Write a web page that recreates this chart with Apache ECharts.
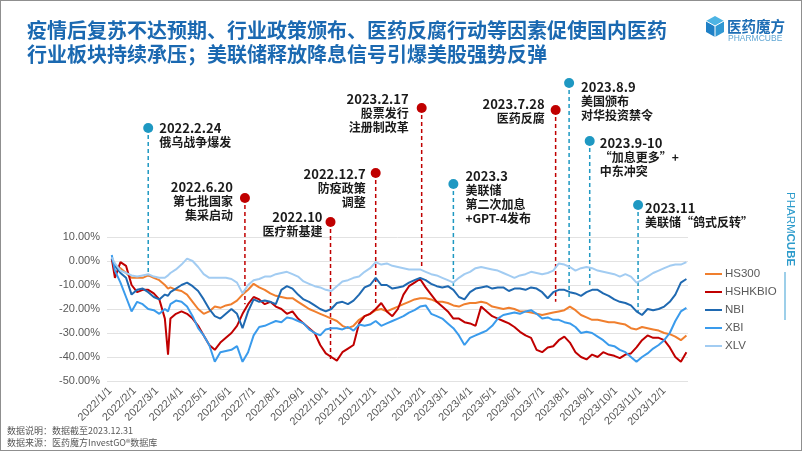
<!DOCTYPE html>
<html><head><meta charset="utf-8">
<script src="https://cdn.jsdelivr.net/npm/echarts@6/dist/echarts.min.js"></script>
<style>
html,body{margin:0;padding:0;background:#fff}
#c{width:802px;height:451px}
#f{position:absolute;left:0;top:0;width:802px;height:451px;box-sizing:border-box;border:1px solid #8f8f8f;pointer-events:none}
</style>
</head><body><div id="c"></div><div id="f"></div>
<script>
// ---------- data ----------
const dates = ['2022-01-03',
'2022-01-07','2022-01-14','2022-01-21','2022-01-28','2022-02-04','2022-02-11','2022-02-18','2022-02-25','2022-03-04','2022-03-11',
'2022-03-15',
'2022-03-18','2022-03-25','2022-04-01','2022-04-08','2022-04-15','2022-04-22','2022-04-29','2022-05-06','2022-05-13','2022-05-20',
'2022-05-27','2022-06-03','2022-06-10','2022-06-17','2022-06-24','2022-07-01','2022-07-08','2022-07-15','2022-07-22','2022-07-29',
'2022-08-05','2022-08-12','2022-08-19','2022-08-26','2022-09-02','2022-09-09','2022-09-16','2022-09-23','2022-09-30','2022-10-07',
'2022-10-14','2022-10-21','2022-10-28','2022-11-04','2022-11-11','2022-11-18','2022-11-25','2022-12-02','2022-12-09','2022-12-16',
'2022-12-23','2022-12-30','2023-01-06','2023-01-13','2023-01-20','2023-01-27','2023-02-03','2023-02-10','2023-02-17','2023-02-24',
'2023-03-03','2023-03-10','2023-03-17','2023-03-24','2023-03-31','2023-04-07','2023-04-14','2023-04-21','2023-04-28','2023-05-05',
'2023-05-12','2023-05-19','2023-05-26','2023-06-02','2023-06-09','2023-06-16','2023-06-23','2023-06-30','2023-07-07','2023-07-14',
'2023-07-21','2023-07-28','2023-08-04','2023-08-11','2023-08-18','2023-08-25','2023-09-01','2023-09-08','2023-09-15','2023-09-22',
'2023-09-29','2023-10-06','2023-10-13','2023-10-20','2023-10-27','2023-11-03','2023-11-10','2023-11-17','2023-11-24','2023-12-01',
'2023-12-08','2023-12-15','2023-12-22','2023-12-29'];

const hs300 = [0.5,
-2,-3,-5,-7,-7,-7,-6,-7,-8,-10,
-11.5,
-11,-12,-12.5,-14,-17,-20,-22,-21,-19,-19.5,
-18.5,-18,-16.5,-14,-12,-9.5,-11,-12,-13.5,-14.5,
-15,-15.5,-15.5,-17,-18.5,-20,-21,-22,-23,-24,
-25,-27,-28,-27,-24.5,-23,-22,-20.5,-20,-21,
-20,-19,-18,-17,-16,-15.5,-15.5,-16,-17,-17,
-17.5,-18.5,-19,-18,-17.5,-17.5,-17,-17.5,-19,-19.5,
-20,-19.5,-20,-21,-21,-21.5,-22,-22.5,-22,-21.5,
-21,-20.5,-19,-20.5,-22.5,-23.5,-24.5,-24.5,-25,-25.5,
-25.5,-26,-26.5,-28,-28.5,-27.5,-28,-28.5,-29,-30,
-30.5,-31.5,-33,-31];

const hshkbio = [1,
-7,-0.5,-2,-10,-13,-12,-12,-13.5,-16,-24,
-39,
-24,-22,-21,-22,-24,-27,-31,-35,-37,-34,
-32,-30,-27,-22,-18,-15,-16,-18,-17,-19,
-20,-22,-21,-24,-26,-28,-30,-35,-38.5,-40,
-41.5,-38,-36.5,-35,-26,-23,-22,-20,-17.5,-21,
-23,-20,-14,-10.5,-9,-7.5,-11,-14,-17,-19,
-21,-24,-24,-25.5,-26,-27,-19,-21,-23,-24,
-25,-26,-27.5,-29.5,-31,-32,-37,-38,-36,-35.5,
-33,-31.5,-34,-38,-40,-41,-39,-40,-38,-39,
-39.5,-40.5,-39,-38.5,-36,-33,-31,-32,-32,-33,
-36,-40,-42,-38];

const nbi = [1,
-2,-5,-7,-14,-12,-11.5,-13,-15,-16,-14,
-14.5,
-13,-11.5,-10,-9,-10.5,-12.5,-16,-20,-23,-24,
-22,-20,-22,-28,-21,-16,-17,-16.5,-17,-18,
-12,-10.5,-11.5,-14,-16,-17,-18.5,-20,-21,-20,
-17.5,-17,-18,-16.5,-14,-11,-10,-7,-10,-10,
-11.5,-11,-10.5,-9,-8,-7,-8,-9.5,-10.5,-11,
-10.5,-12,-15,-16,-13,-11.5,-11,-10.5,-11.5,-11,
-11,-12.5,-11.5,-11.5,-12,-11,-11.5,-13,-15.5,-13,
-12,-12,-13,-13.5,-14.5,-13,-12,-12,-13.5,-14.5,
-16,-17,-17.5,-18.5,-21,-22.5,-20,-20.5,-20,-19,
-17,-14,-9,-7.5];

const xbi = [2.5,
-4,-9,-15,-21,-17,-18,-20,-20.5,-22,-20,
-21,
-18,-16.5,-17,-19,-23,-28,-31,-35,-42,-38,
-37.5,-37,-35.5,-42,-38,-31,-27.5,-27,-26,-25,
-25.5,-23.5,-24,-25,-26,-28.5,-30,-31,-28.5,-28,
-28,-28.5,-27.5,-29,-26.5,-27,-26.5,-25,-27,-26,
-25,-24,-23,-21.5,-20.5,-19,-18.5,-22,-23,-24,
-26,-28,-31,-35,-32,-31,-30,-29,-27,-24,
-22.5,-22,-21.5,-22,-21,-20.5,-22,-24,-23.5,-24.5,
-24.5,-25.5,-26,-27.5,-30,-29.5,-30,-31.5,-33,-35,
-35.5,-37,-38,-40,-42,-40,-38.5,-36.5,-35,-33,
-30,-25,-21,-19.5];

const xlv = [1.5,
-1,-4,-5,-6,-6.5,-6,-5.5,-6.5,-7,-7,
-6,
-5,-3.5,-1.5,1,0,-2.5,-5.5,-7,-7,-7,
-7,-7.5,-9,-13.5,-10,-8,-7.5,-6.5,-6.5,-5.5,
-5,-4.5,-5.5,-6.5,-8.5,-9.5,-10.5,-11,-12,-12.5,
-10.5,-8.5,-8,-7,-6.5,-4.5,-3,-0.5,-1.5,-1,
-2,-2.5,-3,-3.5,-3.5,-3.5,-4.5,-5.5,-6,-7,
-8,-9,-7,-5.5,-4.5,-3,-2.5,-3,-3.5,-4,
-5,-6,-7,-6,-5.5,-4.5,-5,-5.5,-5,-4,
-1,-1.5,-2.5,-4,-3,-2.5,-3,-4,-4.5,-5,
-5.5,-6.5,-5.5,-6.5,-9,-8,-6.5,-5,-4,-3,
-2,-1.5,-1.5,-0.5];

const seriesNames = ['HS300','HSHKBIO','NBI','XBI','XLV'];
const seriesValues = [hs300, hshkbio, nbi, xbi, xlv];

const xTickDates = ['2022-01-01','2022-02-01','2022-03-01','2022-04-01','2022-05-01','2022-06-01',
'2022-07-01','2022-08-01','2022-09-01','2022-10-01','2022-11-01','2022-12-01',
'2023-01-01','2023-02-01','2023-03-01','2023-04-01','2023-05-01','2023-06-01',
'2023-07-01','2023-08-01','2023-09-01','2023-10-01','2023-11-01','2023-12-01'];

// events: position date, end value of dashed line, text lines, kind
const eventDates = ['2022-02-18','2022-06-20','2022-10-06','2022-12-02','2023-01-29','2023-03-10','2023-07-17','2023-08-03','2023-08-29','2023-10-29'];
const eventEndValues = [-6.5,-18,-42,-17.5,-2.5,-10.5,-17,-15.5,-10.5,-21.5];
const eventTexts = [
  ['2022.2.24','俄乌战争爆发'],
  ['2022.6.20','第七批国家','集采启动'],
  ['2022.10','医疗新基建'],
  ['2022.12.7','防疫政策','调整'],
  ['2023.2.17','股票发行','注册制改革'],
  ['2023.3','美联储','第二次加息','+GPT-4发布'],
  ['2023.7.28','医药反腐'],
  ['2023.8.9','美国颁布','对华投资禁令'],
  ['2023.9-10','“加息更多”+','中东冲突'],
  ['2023.11','美联储“鸽式反转”']
];
const eventKinds = ['us','cn','cn','cn','cn','us','cn','us','us','us'];

// ---------- layout / style ----------
const colors = ['#F07F2E','#C00000','#1F69B1','#3A9BEC','#A2CCF2'];
const kindColor = {us:'#1E98C2', cn:'#C00000'};
const eventLayout = [
  {top:128, side:'r', dx:11, ty:128},
  {top:198, side:'l', dx:12, ty:187},
  {top:222, side:'l', dx:8,  ty:217},
  {top:173, side:'l', dx:10, ty:174},
  {top:108, side:'l', dx:13, ty:99},
  {top:184, side:'r', dx:12, ty:176},
  {top:110, side:'l', dx:11, ty:104},
  {top:83,  side:'r', dx:12, ty:87},
  {top:141, side:'r', dx:10, ty:143},
  {top:205, side:'r', dx:7,  ty:208}
];

function toTime(s){const p=s.split('-');return new Date(+p[0],+p[1]-1,+p[2]).getTime();}
function fmtDate(v){const d=new Date(v);return d.getFullYear()+'/'+(d.getMonth()+1)+'/'+d.getDate();}

const chart = echarts.init(document.getElementById('c'), null, {renderer:'canvas'});
const times = dates.map(toTime);

chart.setOption({
  animation:false,
  backgroundColor:'#fff',
  grid:{left:107,right:114,top:237,bottom:70},
  xAxis:{
    type:'value',
    min:toTime('2021-12-28'), max:toTime('2023-12-31'),
    axisLine:{show:false}, axisTick:{show:false}, splitLine:{show:false},
    axisLabel:{
      customValues:xTickDates.map(toTime),
      rotate:45, margin:8, fontSize:11, color:'#595959', fontFamily:'Liberation Sans',
      formatter:fmtDate
    }
  },
  yAxis:{
    type:'value', min:-50, max:10, interval:10,
    axisLine:{show:false}, axisTick:{show:false},
    splitLine:{lineStyle:{color:'#E2E2E2',width:1}},
    axisLabel:{formatter:v=>v.toFixed(2)+'%', fontSize:11, color:'#595959', margin:7, fontFamily:'Liberation Sans'}
  },
  legend:{
    orient:'vertical', left:705, top:268, padding:0,
    icon:'rect', itemWidth:17, itemHeight:2, itemGap:6,
    textStyle:{fontSize:11.5, color:'#595959', fontFamily:'Liberation Sans', lineHeight:12, padding:[0,0,0,-2]},
    data:seriesNames
  },
  series: seriesNames.map((n,i)=>({
    name:n, type:'line', showSymbol:false, symbol:'none',
    lineStyle:{width:2,color:colors[i]}, itemStyle:{color:colors[i]},
    z: 3,
    data: times.map((t,j)=>[t, seriesValues[i][j]])
  }))
});

// ---------- graphics ----------
const g = [];
const titleFont = 'bold 20px "Noto Sans CJK SC"';
g.push({type:'text', left:27, top:20, z:20, style:{text:'疫情后复苏不达预期、行业政策颁布、医药反腐行动等因素促使国内医药', font:titleFont, fill:'#1B69B1'}});
g.push({type:'text', left:27, top:44, z:20, style:{text:'行业板块持续承压；美联储释放降息信号引爆美股强势反弹', font:titleFont, fill:'#1B69B1'}});

g.push({type:'polygon', z:20, shape:{points:[[715,16],[724,21],[715,26],[706,21]]}, style:{fill:'#4DB4E4'}});
g.push({type:'polygon', z:20, shape:{points:[[706,21],[715,26],[715,37],[706,32]]}, style:{fill:'#1F80C6'}});
g.push({type:'polygon', z:20, shape:{points:[[715,26],[724,21],[724,32],[715,37]]}, style:{fill:'#3098D3'}});
g.push({type:'polyline', z:21, shape:{points:[[706,21],[715,26],[724,21]]}, style:{stroke:'#fff',lineWidth:1,fill:null}});
g.push({type:'line', z:21, shape:{x1:715,y1:26,x2:715,y2:37}, style:{stroke:'#fff',lineWidth:1}});
g.push({type:'text', z:20, x:727, y:26, style:{text:'医药魔方', font:'bold 14.5px "Noto Sans CJK SC"', fill:'#1E6EB5', verticalAlign:'middle'}});
g.push({type:'text', z:20, x:728, y:39, style:{text:'PHARMCUBE', font:'8.5px "Liberation Sans"', fill:'#5FA6D4', verticalAlign:'middle'}});

g.push({type:'text', z:20, x:790, y:192, rotation:-Math.PI/2, style:{
  text:'{a|PHARM}{b|CUBE}', verticalAlign:'middle', align:'left',
  rich:{a:{fontSize:11.5, fontFamily:'Liberation Sans', fill:'#2C9BCB', fontWeight:'normal'},
        b:{fontSize:11.5, fontFamily:'Liberation Sans', fill:'#2C9BCB', fontWeight:'bold'}}
}});
g.push({type:'line', z:20, shape:{x1:785,y1:272,x2:785,y2:320}, style:{stroke:'#7DBFE2',lineWidth:1.5}});

g.push({type:'text', z:20, x:7, y:431, style:{text:'数据说明：数据截至2023.12.31', font:'9px "Noto Sans CJK SC"', fill:'#595959', verticalAlign:'middle'}});
g.push({type:'text', z:20, x:7, y:443, style:{text:'数据来源：医药魔方InvestGO®数据库', font:'9px "Noto Sans CJK SC"', fill:'#595959', verticalAlign:'middle'}});

eventDates.forEach((d,i)=>{
  const L = eventLayout[i];
  const col = kindColor[eventKinds[i]];
  const x = chart.convertToPixel({xAxisIndex:0}, toTime(d));
  const yb = chart.convertToPixel({yAxisIndex:0}, eventEndValues[i]);
  g.push({type:'line', z:1, shape:{x1:x,y1:L.top,x2:x,y2:yb}, style:{stroke:col,lineWidth:1.5,lineDash:[4,3]}});
  g.push({type:'circle', z:10, shape:{cx:x,cy:L.top,r:5}, style:{fill:col}});
  eventTexts[i].forEach((t,k)=>{
    const tx = L.side==='r' ? x+L.dx : x-L.dx;
    g.push({type:'text', z:10, x:tx, y:L.ty + k*14.3, style:{
      text:t, align:L.side==='r'?'left':'right', verticalAlign:'middle',
      font: k===0 ? 'bold 13px "Noto Sans CJK SC"' : 'bold 12px "Noto Sans CJK SC"',
      fill:'#1A1A1A'
    }});
  });
});

chart.setOption({graphic:{elements:g}});
</script>
</body></html>
